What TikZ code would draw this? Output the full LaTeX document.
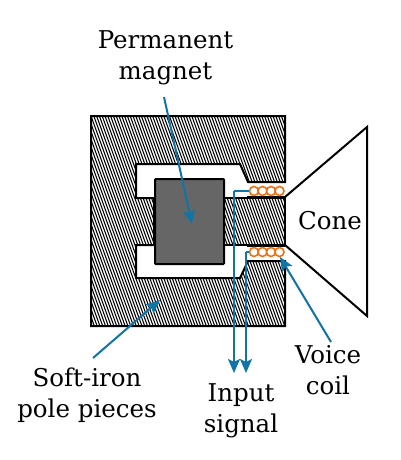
\documentclass[tikz,border=0pt]{standalone}
\usepackage{fontspec}
\setmainfont{DejaVu Serif}
\usetikzlibrary{arrows.meta}
\definecolor{sigblue}{HTML}{0F75A8}
\definecolor{coilor}{HTML}{F26F12}
\definecolor{magnetgray}{HTML}{666666}
\tikzset{
  outline/.style={draw=black,line width=2pt,line join=miter},
  sigline/.style={draw=sigblue,line width=2pt},
  sigarrow/.style={sigline,-{Stealth[length=14pt,width=12pt,inset=3pt]}},
  coilturn/.style={draw=coilor,line width=1.6pt,fill=white,circle,minimum size=9pt,inner sep=0pt},
  lbl/.style={font=\fontsize{24.5}{31}\selectfont,align=center,text=black,inner sep=0pt},
}
\begin{document}
\begin{tikzpicture}[x=1pt,y=-1pt]
\useasboundingbox (0,0) rectangle (400,460);
\fill[white] (0,0) rectangle (400,460);
% pole piece outline
\def\polepath{(91,116) -- (285,116) -- (285,182) -- (248,182) -- (240,164) -- (136,164) -- (136,198) -- (154,198) -- (154,245) -- (136,245) -- (136,278) -- (240,278) -- (248,261) -- (285,261) -- (285,326) -- (91,326) -- cycle}
\begin{scope}
  \clip \polepath;
  \fill[white] (91,116) rectangle (285,326);
  \foreach \i in {-45,...,100} {
    \draw[line width=1.05pt,black] ({60+\i*2.8},100) -- ({60+\i*2.8+87},340);
  }
\end{scope}
\draw[outline] \polepath;
% centre pole
\begin{scope}
  \clip (224,198) rectangle (285,245);
  \fill[white] (224,198) rectangle (285,245);
  \foreach \i in {-45,...,100} {
    \draw[line width=1.05pt,black] ({60+\i*2.8},100) -- ({60+\i*2.8+87},340);
  }
\end{scope}
\draw[outline] (224,198) -- (285,198) -- (285,245) -- (224,245);
\draw[black,line width=3pt] (247,197) -- (285,197) (247,245) -- (285,245);
% magnet
\node[draw=black,line width=2pt,fill=magnetgray,minimum width=69pt,minimum height=85pt,inner sep=0pt,rounded corners=0.8pt,anchor=north west] (magnet) at (154,178) {};
% cone
\draw[black,line width=2pt,line join=miter] (285,197) -- (367,127) -- (367,316) -- (285,245);
% coil
\foreach \n/\x in {a/254,b/262.5,c/271,d/279.5}{
  \node[coilturn] (u\n) at (\x,191) {};
  \node[coilturn] (l\n) at (\x,252) {};
}
% labels
\node[lbl] (pm) at (165.5,58) {Permanent\\magnet};
\node[lbl] (cone) at (330,221) {Cone};
\node[lbl] (soft) at (87,395) {Soft-iron\\pole pieces};
\node[lbl] (vc) at (328,370) {Voice\\coil};
\node[lbl] (input) at (241,411) {Input\\signal};
% connectors
\coordinate (pmS) at (164,97);
\coordinate (pmE) at (192,224);
\coordinate (sfS) at (93,358);
\coordinate (sfE) at (160,300);
\coordinate (vcS) at (331,342);
\coordinate (vcE) at (280,257);
\coordinate (inA) at (234,373);
\coordinate (inB) at (246,373);
\coordinate (cA) at (234,191);
\coordinate (cB) at (246,252);
\draw[sigline] (ua.west) -- (cA);
\draw[sigline] (la.west) -- (cB);
\draw[sigarrow] (cA) -- (inA);
\draw[sigarrow] (cB) -- (inB);
\draw[sigarrow] (pmS) -- (pmE);
\draw[sigarrow] (sfS) -- (sfE);
\draw[sigarrow] (vcS) -- (vcE);
\end{tikzpicture}
\end{document}
